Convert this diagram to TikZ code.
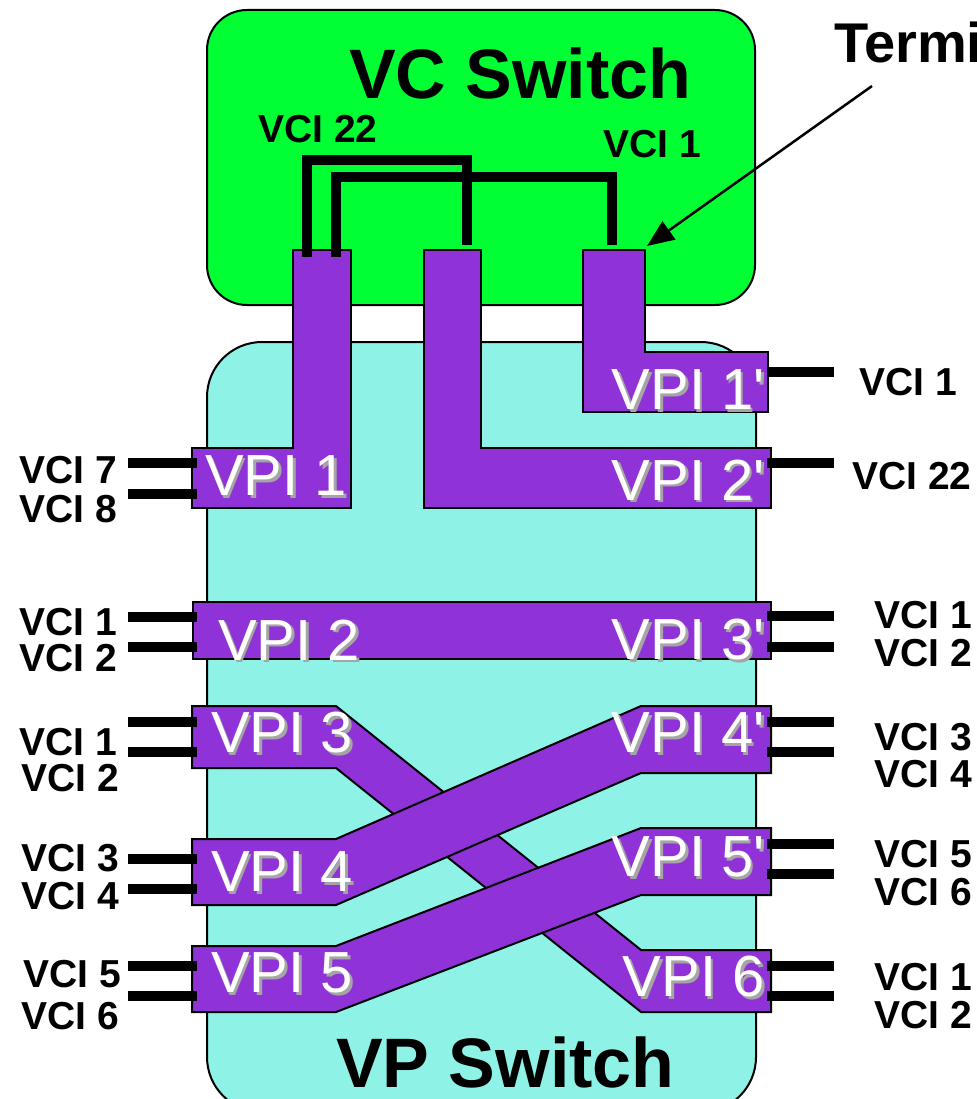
\documentclass[tikz,border=0pt]{standalone}
\usepackage{fontspec}
\setmainfont{Liberation Sans}[Ligatures=TeXOff]
\usetikzlibrary{arrows.meta,calc}
\definecolor{vcgreen}{RGB}{0,255,51}
\definecolor{vpcyan}{RGB}{142,243,230}
\definecolor{vpurple}{RGB}{143,51,217}
\definecolor{shadowgray}{RGB}{165,165,165}
\tikzset{
  switchbox/.style={draw=black, line width=2pt},
  band/.style={draw=black, line width=2pt, fill=vpurple, line join=miter},
  stub/.style={line width=10pt, black},
  vcline/.style={line width=10pt, black, line join=miter},
  vcilabel/.style={inner sep=0pt, font=\bfseries\fontsize{39}{40}\selectfont},
  vpitext/.style={inner sep=0pt, text=white, font=\fontsize{58}{60}\selectfont},
  vpishadow/.style={inner sep=0pt, text=shadowgray, font=\fontsize{58}{60}\selectfont},
  title/.style={inner sep=0pt, font=\bfseries\fontsize{70}{72}\selectfont},
}
\newcommand{\vpilabel}[4]{% name, anchor, position, text
  \node[vpishadow, anchor=#2] (#1s) at ($#3+(2.5,2.5)$) {#4};
  \node[vpitext, anchor=#2] (#1) at #3 {#4};
}
\begin{document}
\begin{tikzpicture}[x=1pt, y=-1pt]
\useasboundingbox (0,0) rectangle (976,1099);
\begin{scope}
\clip (0,0) rectangle (976,1099);
% switches
\draw[switchbox, fill=vcgreen, rounded corners=40pt] (207,10) rectangle (755,305);
\draw[switchbox, fill=vpcyan, rounded corners=55pt] (207,342) rectangle (756,1112);
\node[title, anchor=west] (vctitle) at (349,73) {VC Switch};
\node[title, anchor=west] (vptitle) at (336,1062) {VP Switch};

% purple bands
\draw[band] (293,250) -- (351,250) -- (351,508) -- (192,508) -- (192,448) -- (293,448) -- cycle;
\draw[band] (424,250) -- (481,250) -- (481,448) -- (771,448) -- (771,508) -- (424,508) -- cycle;
\draw[band] (583,250) -- (645,250) -- (645,352) -- (768,352) -- (768,412) -- (583,412) -- cycle;
\draw[band] (193,602) rectangle (771,659);
\draw[band] (192,706) -- (336,706) -- (641,950) -- (771,950) -- (771,1012) -- (641,1012) -- (336,768) -- (192,768) -- cycle;
\draw[band] (192,839) -- (336,839) -- (641,706) -- (771,706) -- (771,773) -- (641,773) -- (336,905) -- (192,905) -- cycle;
\draw[band] (192,946) -- (336,946) -- (641,828) -- (771,828) -- (771,895) -- (641,895) -- (336,1012) -- (192,1012) -- cycle;

% stubs left
\foreach \y in {463,494,617,647,722,752,859,889,966,996}
  \draw[stub] (128,\y) -- (197,\y);
% stubs right
\foreach \y in {463,616,647,722,752,844,874,966,996}
  \draw[stub] (767,\y) -- (834,\y);
\draw[stub] (767,372) -- (834,372);

% VPI labels
\vpilabel{vpi1}{west}{(205,476)}{VPI 1}
\vpilabel{vpi2p}{east}{(765,480)}{VPI 2'}
\vpilabel{vpi1p}{east}{(765,390)}{VPI 1'}
\vpilabel{vpi2}{west}{(218,640)}{VPI 2}
\vpilabel{vpi3p}{east}{(765,640)}{VPI 3'}
\vpilabel{vpi3}{west}{(211,733)}{VPI 3}
\vpilabel{vpi4p}{east}{(765,733)}{VPI 4'}
\vpilabel{vpi4}{west}{(211,872)}{VPI 4}
\vpilabel{vpi5p}{east}{(765,857)}{VPI 5'}
\vpilabel{vpi5}{west}{(211,973)}{VPI 5}
\vpilabel{vpi6}{east}{(765,977)}{VPI 6}

% VC connections
\draw[vcline] (307,257) -- (307,160) -- (467,160) -- (467,245);
\draw[vcline] (336,257) -- (336,177) -- (612,177) -- (612,245);

% labels inside VC switch
\node[vcilabel, anchor=west] (vc22) at (258,129) {VCI 22};
\node[vcilabel, anchor=west] (vc1in) at (603,144) {VCI 1};

% left labels
\node[vcilabel, anchor=east] (l7) at (117,470) {VCI 7};
\node[vcilabel, anchor=east] (l8) at (117,509) {VCI 8};
\node[vcilabel, anchor=east] (l1a) at (117,622) {VCI 1};
\node[vcilabel, anchor=east] (l2a) at (117,658) {VCI 2};
\node[vcilabel, anchor=east] (l1b) at (117,742) {VCI 1};
\node[vcilabel, anchor=east] (l2b) at (119,778) {VCI 2};
\node[vcilabel, anchor=east] (l3) at (119,858) {VCI 3};
\node[vcilabel, anchor=east] (l4) at (119,896) {VCI 4};
\node[vcilabel, anchor=east] (l5) at (121,974) {VCI 5};
\node[vcilabel, anchor=east] (l6) at (119,1016) {VCI 6};

% right labels
\node[vcilabel, anchor=west] (r1top) at (859,382) {VCI 1};
\node[vcilabel, anchor=west] (r22) at (852,476) {VCI 22};
\node[vcilabel, anchor=west] (r1a) at (874,615) {VCI 1};
\node[vcilabel, anchor=west] (r2a) at (874,653) {VCI 2};
\node[vcilabel, anchor=west] (r3) at (874,737) {VCI 3};
\node[vcilabel, anchor=west] (r4) at (874,774) {VCI 4};
\node[vcilabel, anchor=west] (r5) at (874,854) {VCI 5};
\node[vcilabel, anchor=west] (r6) at (874,892) {VCI 6};
\node[vcilabel, anchor=west] (r1b) at (874,977) {VCI 1};
\node[vcilabel, anchor=west] (r2b) at (874,1015) {VCI 2};

% Termination arrow
\node[inner sep=0pt, anchor=west, font=\bfseries\fontsize{56}{58}\selectfont] (term) at (834,42) {Termi};
\coordinate (arrtip) at (647,246);
\coordinate (arrstart) at (872,86);
\draw[line width=2.5pt, -{Triangle[length=27pt, width=22pt]}] (arrstart) -- (arrtip);
\end{scope}
\end{tikzpicture}
\end{document}
